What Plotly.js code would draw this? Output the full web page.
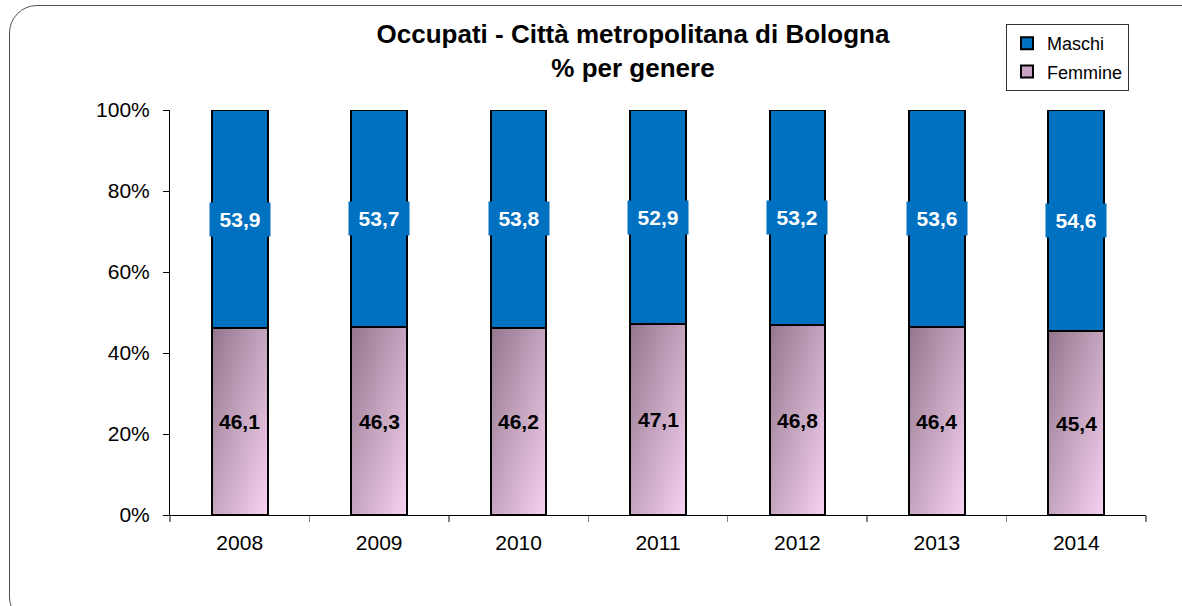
<!DOCTYPE html>
<html><head><meta charset="utf-8">
<script src="https://cdn.plot.ly/plotly-3.0.1.min.js"></script>
<style>
html,body{margin:0;padding:0;background:#fff;overflow:hidden}
#wrap{position:relative;width:1182px;height:606px}
#frame{position:absolute;left:9px;top:5px;width:1215px;height:620px;border:1.5px solid #505050;border-radius:28px;pointer-events:none;box-sizing:border-box}
</style></head><body>
<div id="wrap"><div id="chart" style="width:1182px;height:606px"></div><div id="frame"></div></div>
<script>
const years = ['2008','2009','2010','2011','2012','2013','2014'];
const femmine = [46.1,46.3,46.2,47.1,46.8,46.4,45.4];
const maschi = [53.9,53.7,53.8,52.9,53.2,53.6,54.6];
const titleLine1 = 'Occupati - Città metropolitana di Bologna';
const titleLine2 = '% per genere';

const fmt = v => v.toFixed(1).replace('.', ',');
const FONT = 'Arial, "Liberation Sans", sans-serif';

const traces = [
  {type:'bar', name:'Femmine', x:years, y:femmine, width:0.4, legendrank:2,
   marker:{color:'#c9a3c4', line:{color:'#000', width:2}}, legendgroup:'f', hoverinfo:'skip'},
  {type:'bar', name:'Maschi', x:years, y:maschi, width:0.4, legendrank:1,
   marker:{color:'#0070C0', line:{color:'#000', width:2}}, legendgroup:'m', hoverinfo:'skip'}
];

const annotations = [];
years.forEach((yr,i)=>{
  annotations.push({x:i, y:femmine[i]/2, xref:'x', yref:'y', text:'<b>'+fmt(femmine[i])+'</b>',
    showarrow:false, font:{family:FONT, size:21, color:'#000'}});
  annotations.push({x:i, y:femmine[i]+maschi[i]/2, xref:'x', yref:'y', text:'<b>'+fmt(maschi[i])+'</b>',
    showarrow:false, font:{family:FONT, size:21, color:'#fff'}, bgcolor:'#0070C0', width:58, height:31});
});

const layout = {
  width:1182, height:606,
  margin:{l:170, r:36, t:110, b:91},
  paper_bgcolor:'rgba(0,0,0,0)', plot_bgcolor:'rgba(0,0,0,0)',
  barmode:'stack',
  font:{family:FONT, color:'#000'},
  title:{text:'<b>'+titleLine1+'<br>'+titleLine2+'</b>', x:633/1182, xanchor:'center', y:1-43/606, yanchor:'middle',
    font:{family:FONT, size:26, color:'#000'}},
  xaxis:{type:'category', range:[-0.5, 6.5], tickson:'boundaries', ticks:'outside', ticklen:6, tickcolor:'#808080', tickwidth:1.5,
    showline:true, linecolor:'#000', linewidth:1, showgrid:false, tickfont:{family:FONT, size:21},
    ticklabelstandoff:9, fixedrange:true},
  yaxis:{range:[0,100], dtick:20, ticksuffix:'%', ticks:'outside', ticklen:6, tickcolor:'#000',
    showline:true, linecolor:'#000', linewidth:1, showgrid:false, zeroline:false,
    tickfont:{family:FONT, size:21}, ticklabelstandoff:9, fixedrange:true},
  legend:{x:(1006-170)/976, y:(515-24)/405, xanchor:'left', yanchor:'top', traceorder:'grouped',
    tracegroupgap:2, bgcolor:'#fff', bordercolor:'#333', borderwidth:1, font:{family:FONT, size:18},
    entrywidth:170},
  annotations:annotations,
  showlegend:true
};

Plotly.newPlot('chart', traces, layout, {displayModeBar:false, staticPlot:true}).then(gd=>{
  const svg = gd.querySelector('svg.main-svg');
  let defs = svg.querySelector('defs');
  const ns = 'http://www.w3.org/2000/svg';
  const lg = document.createElementNS(ns,'linearGradient');
  lg.setAttribute('id','fgrad'); lg.setAttribute('x1','0'); lg.setAttribute('y1','0');
  lg.setAttribute('x2','1'); lg.setAttribute('y2','1');
  [['0%','#93768d'],['100%','#f7d3f2']].forEach(([o,c])=>{
    const s=document.createElementNS(ns,'stop'); s.setAttribute('offset',o); s.setAttribute('stop-color',c); lg.appendChild(s);
  });
  defs.appendChild(lg);
  const tr = gd.querySelectorAll('.barlayer .trace')[0];
  if (tr) tr.querySelectorAll('path').forEach(p=>{ p.style.fill='url(#fgrad)'; });
});
</script>
</body></html>
